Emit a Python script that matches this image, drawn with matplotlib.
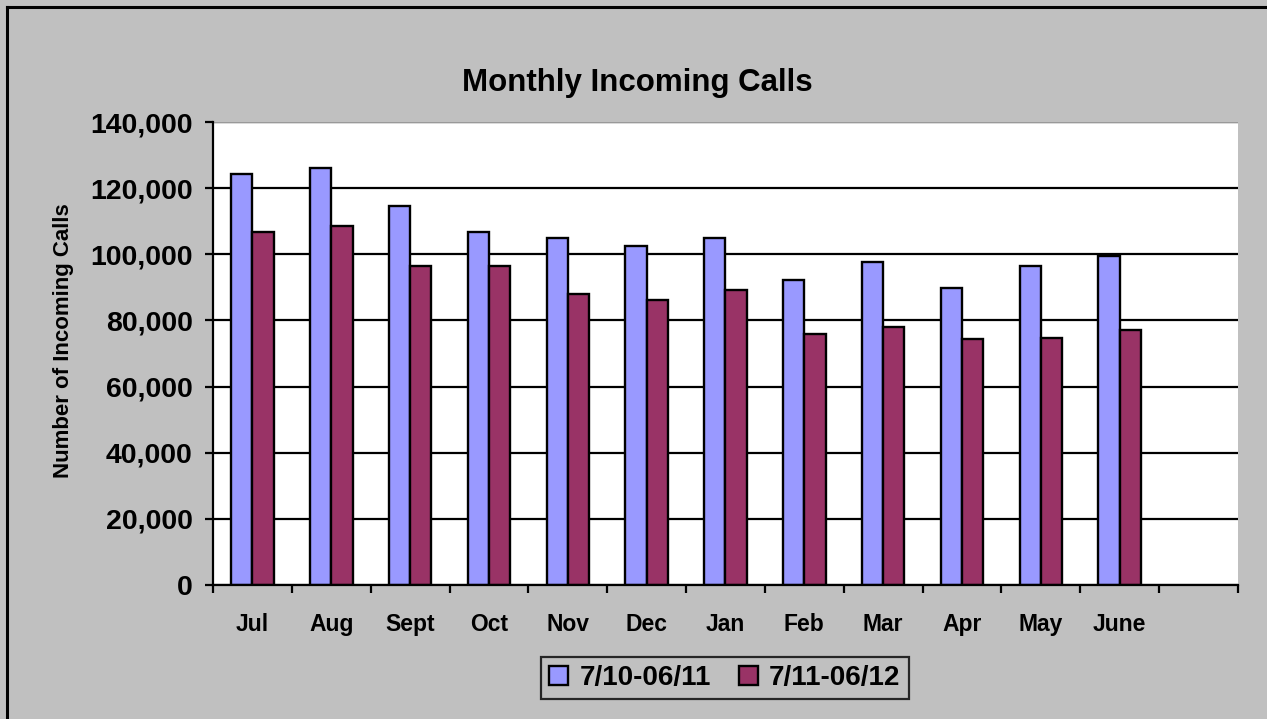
import matplotlib.pyplot as plt
import matplotlib.lines as mlines
from matplotlib.ticker import FuncFormatter, FixedLocator
import numpy as np

plt.rcParams['font.family'] = ['Liberation Sans', 'DejaVu Sans']
plt.rcParams['font.weight'] = 'bold'

months = ["Jul", "Aug", "Sept", "Oct", "Nov", "Dec", "Jan", "Feb", "Mar", "Apr", "May", "June"]
calls_10_11 = [124300, 126200, 114700, 106800, 104900, 102500, 105000, 92300, 97800, 89900, 96600, 99600]
calls_11_12 = [106800, 108700, 96500, 96500, 88000, 86200, 89300, 76000, 77900, 74300, 74800, 77200]
series_names = ["7/10-06/11", "7/11-06/12"]

n_slots = 13  # one empty category slot at the end, as in the original
x = np.arange(len(months))
w = 0.27

fig = plt.figure(figsize=(12.67, 7.19), dpi=100, facecolor="#C0C0C0")
ax = fig.add_axes([0.1681, 0.1864, 0.809, 0.6439])
ax.set_facecolor("white")

ax.bar(x - w / 2, calls_10_11, w, color="#9999FF", edgecolor="black", linewidth=1.7, label=series_names[0], zorder=3)
ax.bar(x + w / 2, calls_11_12, w, color="#993366", edgecolor="black", linewidth=1.7, label=series_names[1], zorder=3)

ax.set_xlim(-0.5, n_slots - 0.5)
ax.set_ylim(0, 140000)
ax.set_yticks(np.arange(0, 140001, 20000))
ax.yaxis.set_major_formatter(FuncFormatter(lambda v, p: f"{int(v):,}"))
ax.grid(axis="y", color="black", linewidth=1.6, zorder=1)
ax.axhline(140000, color="#999999", linewidth=1.6, zorder=2)

ax.set_xticks(x)
ax.set_xticklabels(months, fontsize=16.5, fontweight="bold")
ax.xaxis.set_minor_locator(FixedLocator(np.arange(-0.5, n_slots, 1)))
ax.tick_params(axis="x", which="major", length=0, pad=20)
ax.tick_params(axis="x", which="minor", length=6, width=1.6, direction="out")
ax.tick_params(axis="y", length=6, width=1.6, direction="out", labelsize=20.5, pad=8.5)
for lbl in ax.get_yticklabels():
    lbl.set_fontweight("bold")

for side in ["top", "right"]:
    ax.spines[side].set_visible(False)
ax.spines["left"].set_linewidth(1.6)
ax.spines["bottom"].set_linewidth(1.6)
ax.spines["bottom"].set_zorder(4)

fig.text(0.503, 0.884, "Monthly Incoming Calls", ha="center", va="center", fontsize=22.5, fontweight="bold")
fig.text(0.05, 0.526, "Number of Incoming Calls", rotation=90, ha="center", va="center", fontsize=16, fontweight="bold")

leg = fig.legend(loc="center", bbox_to_anchor=(0.572, 0.057), ncol=2, fontsize=20, frameon=True,
                 fancybox=False, facecolor="#C0C0C0", edgecolor="black", handlelength=0.7, handleheight=0.7,
                 handletextpad=0.4, columnspacing=1.0, borderpad=0.3)
leg.get_frame().set_linewidth(1.6)

# outer chart frame (left and top edges visible in the original)
fig.add_artist(mlines.Line2D([7 / 1267, 7 / 1267], [0, 1 - 7 / 719], color="black", linewidth=2.2))
fig.add_artist(mlines.Line2D([7 / 1267, 1], [1 - 7 / 719, 1 - 7 / 719], color="black", linewidth=2.2))

fig.savefig("out.png", dpi=100, facecolor=fig.get_facecolor())
